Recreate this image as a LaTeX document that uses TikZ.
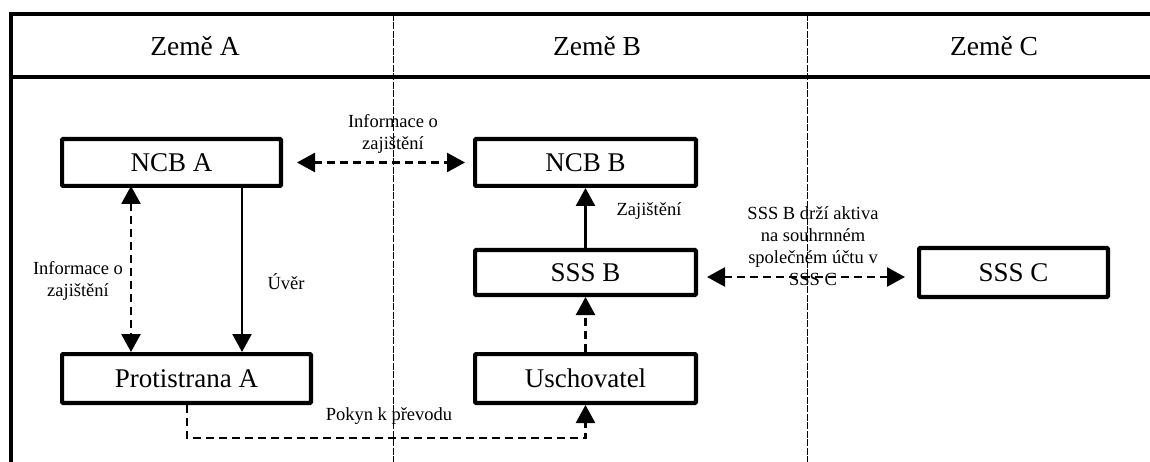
\documentclass[tikz,border=0pt]{standalone}
\usepackage{fontspec}
\setmainfont{Liberation Serif}
\usetikzlibrary{arrows.meta}
\begin{document}
\begin{tikzpicture}[x=1pt,y=-1pt,
  box/.style={draw,line width=4.2pt,rounded corners=1pt,inner sep=0pt,font=\fontsize{27}{30}\selectfont},
  head/.style={inner sep=0pt,font=\fontsize{27.5}{30}\selectfont},
  lbl/.style={inner sep=0pt,align=center,font=\fontsize{18.5}{22}\selectfont},
  conn/.style={line width=2.6pt},
  dconn/.style={conn,dash pattern=on 8pt off 5pt},
  tip/.style={-{Triangle[length=18pt,width=19pt]}},
  dtip/.style={{Triangle[length=18pt,width=19pt]}-{Triangle[length=18pt,width=19pt]}},
  divider/.style={line width=0.9pt,dash pattern=on 7pt off 1.5pt},
  frame/.style={line width=3.8pt}
]
\useasboundingbox (0,0) rectangle (1150,462);
% frame
\draw[frame] (11,14) -- (1150,14);
\draw[frame] (11,77) -- (1150,77);
\draw[frame] (11,12.1) -- (11,462);
\draw[divider] (393,14) -- (393,462);
\draw[divider] (807,14) -- (807,462);
% headers
\node[head] (ha) at (195,46) {Země A};
\node[head] (hb) at (597,46) {Země B};
\node[head] (hc) at (994,46) {Země C};
% boxes
\node[box,minimum width=218.8pt,minimum height=46.8pt] (ncba) at (171.5,162.5) {NCB A};
\node[box,minimum width=220.8pt,minimum height=46.8pt] (ncbb) at (585.5,162.5) {NCB B};
\node[box,minimum width=220.8pt,minimum height=44.8pt] (sssb) at (585.5,272.5) {SSS B};
\node[box,minimum width=188.8pt,minimum height=48.8pt] (sssc) at (1013.5,272.5) {SSS C};
\node[box,minimum width=248.8pt,minimum height=48.8pt] (prot) at (186.5,378.5) {Protistrana A};
\node[box,minimum width=220.8pt,minimum height=48.8pt] (usch) at (585.5,378.5) {Uschovatel};
% helper coordinates
\coordinate (xinfo) at (131,0);
\coordinate (xuver) at (242,0);
\coordinate (xpok) at (187,0);
\coordinate (ypok) at (0,438);
\coordinate (ysss) at (0,277);
% connectors
\draw[dconn,dtip] ([xshift=14pt]ncba.east) -- ([xshift=-8pt]ncbb.west);
\draw[dconn,dtip] ([yshift=2pt]ncba.south -| xinfo) -- (prot.north -| xinfo);
\draw[conn,tip] (ncba.south -| xuver) -- (prot.north -| xuver);
\draw[conn,tip] (sssb.north) -- (ncbb.south);
\draw[dconn,tip] (usch.north) -- (sssb.south);
\draw[dconn,dtip] ([xshift=9pt]sssb.east |- ysss) -- ([xshift=-12pt]sssc.west |- ysss);
\draw[dconn,tip] (prot.south -| xpok) -- (xpok |- ypok) -- (usch.south |- ypok) -- (usch.south);
% labels
\node[lbl] (l1) at (393,134) {Informace o\\zajištění};
\node[lbl] (l2) at (78,281) {Informace o\\zajištění};
\node[lbl] (l3) at (286,282) {Úvěr};
\node[lbl] (l4) at (649,211) {Zajištění};
\node[lbl] (l5) at (813,246) {SSS B drží aktiva\\na souhrnném\\společném účtu v\\SSS C};
\node[lbl] (l6) at (389,416) {Pokyn k převodu};
\end{tikzpicture}
\end{document}
